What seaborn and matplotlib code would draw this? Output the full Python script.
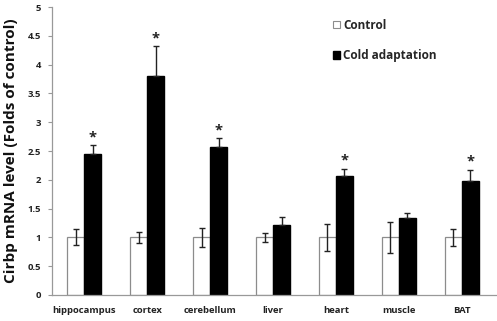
import matplotlib
matplotlib.use("Agg")
import matplotlib.pyplot as plt
import seaborn as sns
import pandas as pd
import numpy as np

tissues = ["hippocampus", "cortex", "cerebellum", "liver", "heart", "muscle", "BAT"]
control_mean = [1.0, 1.0, 1.0, 1.0, 1.0, 1.0, 1.0]
control_err = [0.14, 0.10, 0.17, 0.08, 0.23, 0.27, 0.15]
cold_mean = [2.45, 3.80, 2.57, 1.21, 2.06, 1.33, 1.98]
cold_err = [0.15, 0.52, 0.15, 0.14, 0.13, 0.10, 0.19]
significant = [True, True, True, False, True, False, True]
groups = ["Control", "Cold adaptation"]
yticks = [0, 0.5, 1, 1.5, 2, 2.5, 3, 3.5, 4, 4.5, 5]
ytick_labels = ["0", "0.5", "1", "1.5", "2", "2.5", "3", "3.5", "4", "4.5", "5"]

sns.set_style("white")
plt.rcParams['font.family'] = ['Open Sans', 'DejaVu Sans']

df = pd.DataFrame({
    "tissue": tissues * 2,
    "group": [groups[0]] * len(tissues) + [groups[1]] * len(tissues),
    "value": control_mean + cold_mean,
})

fig = plt.figure(figsize=(4.97, 3.21), dpi=100)
ax = fig.add_axes([0.105, 0.081, 0.895, 0.897])

sns.barplot(data=df, x="tissue", y="value", hue="group", order=tissues,
            hue_order=groups, palette={"Control": "white", "Cold adaptation": "black"},
            width=0.54, errorbar=None, ax=ax, legend=False)

cont_c, cold_c = ax.containers[0], ax.containers[1]
for i, p in enumerate(cont_c):
    p.set_edgecolor("#8c8c8c"); p.set_linewidth(0.9)
    cx = p.get_x() + p.get_width() / 2
    ax.errorbar(cx, control_mean[i], yerr=control_err[i], color="#222222",
                capsize=2.2, elinewidth=1.0, capthick=1.0, fmt="none")
for i, p in enumerate(cold_c):
    p.set_edgecolor("black")
    cx = p.get_x() + p.get_width() / 2
    ax.errorbar(cx, cold_mean[i], yerr=[[0], [cold_err[i]]], color="#222222",
                capsize=2.2, elinewidth=1.0, capthick=1.0, fmt="none")
    if significant[i]:
        ax.text(cx, cold_mean[i] + cold_err[i] + 0.02, "*", ha="center", va="bottom",
                fontsize=10.5, fontweight="bold", color="#222222")

ax.set_xlim(-0.51, 6.56)
ax.set_ylim(0, 5)
ax.set_yticks(yticks)
ax.set_yticklabels(ytick_labels, fontsize=6.8, fontweight="bold", color="#222222")
ax.set_xticks(range(len(tissues)))
ax.set_xticklabels(tissues, fontsize=6.8, fontweight="bold", color="#222222")
ax.tick_params(axis="x", length=0, pad=8)
ax.tick_params(axis="y", length=3, width=0.8, color="#999999", direction="out", left=True, pad=5)
ax.set_xlabel("")
ax.set_ylabel("Cirbp mRNA level (Folds of control)", fontsize=11, fontweight="bold",
              color="#111111", labelpad=7)
for s in ["top", "right"]:
    ax.spines[s].set_visible(False)
for s in ["left", "bottom"]:
    ax.spines[s].set_color("#999999")
    ax.spines[s].set_linewidth(0.9)

from matplotlib.patches import Patch
handles = [Patch(facecolor="white", edgecolor="#8c8c8c", linewidth=0.8),
           Patch(facecolor="black", edgecolor="black")]
leg = ax.legend(handles, groups, loc="upper left", bbox_to_anchor=(0.607, 0.997),
                frameon=False, handlelength=0.6, handleheight=0.6, handletextpad=0.3,
                labelspacing=1.5, prop={"size": 8.5, "weight": "bold"})

fig.savefig("out.png", dpi=100)
